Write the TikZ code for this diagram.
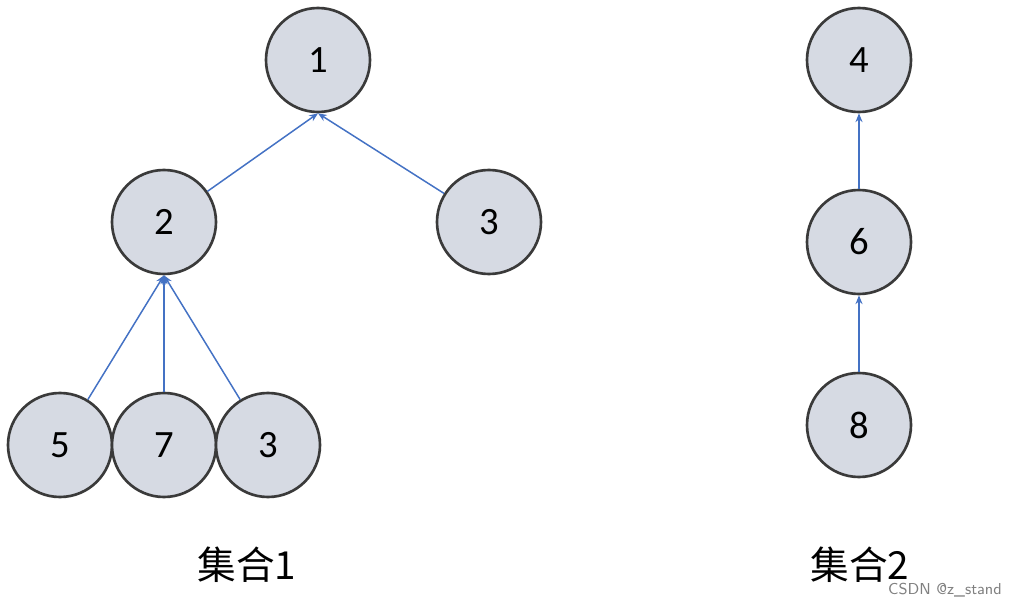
\documentclass[tikz,border=0pt]{standalone}
\usepackage{fontspec}
\setmainfont{Carlito}
\newfontfamily\cjk{Noto Sans CJK SC}
\usetikzlibrary{arrows.meta}
\definecolor{nodefill}{HTML}{D6DAE3}
\definecolor{nodeedge}{HTML}{3A3A3A}
\definecolor{arrowc}{HTML}{4472C4}
\tikzset{
 elem/.style={circle,draw=nodeedge,fill=nodefill,line width=1.5pt,minimum size=104*0.02cm,inner sep=0pt,font=\fontsize{22}{24}\selectfont},
 link/.style={draw=arrowc,line width=0.85pt,-{Stealth[length=5pt,width=4pt]}}
}
\begin{document}
\begin{tikzpicture}[x=0.02cm,y=-0.02cm]
\useasboundingbox (0,0) rectangle (1032,608);
\node[elem] (n5) at (60,445) {5};
\node[elem] (n7) at (164,445) {7};
\node[elem] (n3b) at (268,445) {3};
\node[elem] (n1) at (318,60) {1};
\node[elem] (n2) at (164,222) {2};
\node[elem] (n3) at (489,222) {3};
\node[elem] (n4) at (859,60) {4};
\node[elem] (n6) at (859,242) {6};
\node[elem] (n8) at (859,425) {8};
\draw[link] (n2) -- (n1.south);
\draw[link] (n3) -- (n1.south);
\draw[link] (n5) -- (n2.south);
\draw[link] (n7) -- (n2.south);
\draw[link] (n3b) -- (n2.south);
\draw[link] (n6) -- (n4.south);
\draw[link] (n8) -- (n6.south);
\node[font=\cjk\fontsize{22}{24}\selectfont] (s1) at (247,565) {集合1};
\node[font=\cjk\fontsize{22}{24}\selectfont] (s2) at (860,565) {集合2};
\node[font=\sffamily\fontsize{9}{10}\selectfont,text=gray] (wm) at (945,590) {CSDN @z\_stand};
\end{tikzpicture}
\end{document}
